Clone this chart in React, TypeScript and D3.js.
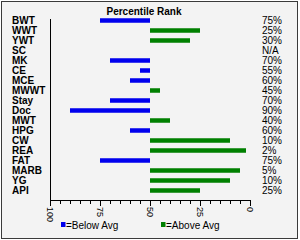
import React from "react";
import * as d3 from "d3";

const categories = ["BWT", "WWT", "YWT", "SC", "MK", "CE", "MCE", "MWWT", "Stay", "Doc", "MWT", "HPG", "CW", "REA", "FAT", "MARB", "YG", "API"];
const percentiles: (number | null)[] = [75, 25, 30, null, 70, 55, 60, 45, 70, 90, 40, 60, 10, 2, 75, 5, 10, 25];
const majorTicks = [100, 75, 50, 25, 0];
const average = 50;

const BLUE = "#0000ee";
const GREEN = "#008000";
const FONT = "'Liberation Sans', Arial, sans-serif";

const App = () => {
  const width = 300;
  const height = 240;

  const x = d3.scaleLinear().domain([100, 0]).range([50, 250]);
  const y = d3.scaleBand().domain(categories).range([15.5, 195.5]);
  const minorTicks = d3.range(0, 101, 5);
  const barH = 4.5;

  return (
    <svg
      width={width}
      height={height}
      style={{ position: "absolute", left: 0, top: 0, fontFamily: FONT }}
    >
      <rect x={0} y={0} width={width} height={height} fill="#ffffff" />
      <rect x={1.5} y={1.5} width={296} height={237} fill="#f3f3f3" stroke="#3a3a3a" strokeWidth={1} />

      <text x={144} y={14.5} textAnchor="middle" fontSize={10} fontWeight="bold" fill="#000">
        Percentile Rank
      </text>

      {categories.map((c, i) => {
        const v = percentiles[i];
        const cy = (y(c) as number) + y.bandwidth() / 2;
        return (
          <g key={c}>
            <text x={12} y={cy} dy="0.35em" fontSize={10} fontWeight="bold" fill="#000">
              {c}
            </text>
            {v !== null && (
              <rect
                x={Math.min(x(average), x(v))}
                y={cy - barH / 2}
                width={Math.abs(x(v) - x(average))}
                height={barH}
                fill={v > average ? BLUE : GREEN}
              />
            )}
            <text x={262} y={cy} dy="0.35em" fontSize={10} fill="#000">
              {v === null ? "N/A" : `${v}%`}
            </text>
          </g>
        );
      })}

      {/* axis lines */}
      <line x1={50.5} x2={50.5} y1={19} y2={200} stroke="#000" strokeWidth={1} />
      <line x1={50} x2={250.5} y1={200.5} y2={200.5} stroke="#000" strokeWidth={1} />
      {minorTicks.map((t) => (
        <line
          key={t}
          x1={Math.round(x(t)) + 0.5}
          x2={Math.round(x(t)) + 0.5}
          y1={200}
          y2={majorTicks.includes(t) ? 206 : 204}
          stroke="#000"
          strokeWidth={1}
        />
      ))}
      {majorTicks.map((t) => (
        <text
          key={t}
          transform={`translate(${x(t)},207) rotate(90)`}
          dy="0.35em"
          fontSize={9}
          fill="#000"
        >
          {t}
        </text>
      ))}

      {/* legend */}
      <rect x={61} y={222} width={4.5} height={5} fill={BLUE} />
      <text x={66} y={229} fontSize={10} fill="#000">=Below Avg</text>
      <rect x={161} y={222} width={4.5} height={5} fill={GREEN} />
      <text x={166} y={229} fontSize={10} fill="#000">=Above Avg</text>
    </svg>
  );
};

export default App;
